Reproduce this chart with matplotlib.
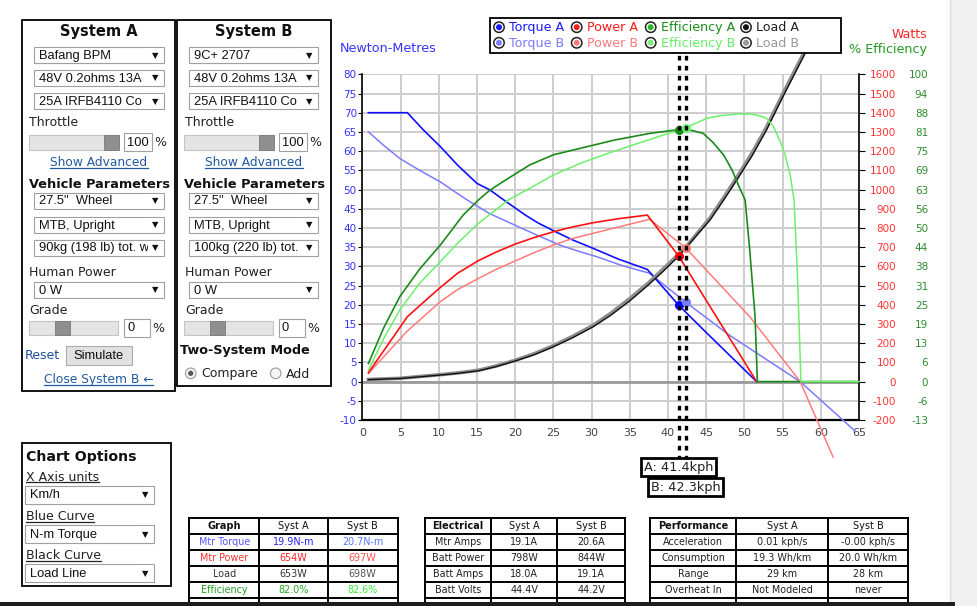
import matplotlib
matplotlib.use("Agg")
import matplotlib.pyplot as plt
from matplotlib.patches import Rectangle, Circle

plt.rcParams['axes.unicode_minus'] = False

W, H = 978, 606

# ---- chart data, x axis in km/h ----
torque_a_kph = [0.8, 5.9, 8.0, 10.2, 12.5, 15.0, 16.7, 18.5, 21.3, 23.0, 25.0, 27.5, 30.2,
                33.5, 37.3, 41.4, 45.1, 51.6]
torque_a_nm = [70.0, 70.0, 65.5, 61.2, 56.3, 51.6, 49.9, 47.3, 43.4, 41.3, 39.3, 36.9, 34.7,
               31.9, 29.2, 19.9, 12.6, 0.0]

torque_b_kph = [0.8, 2.8, 4.9, 7.5, 10.2, 13.7, 16.7, 20.0, 23.0, 25.9, 28.2, 30.7, 34.0,
                37.6, 42.3, 48.1, 57.3, 64.5]
torque_b_nm = [65.0, 61.5, 58.1, 55.0, 52.0, 47.3, 43.7, 40.7, 38.0, 35.5, 34.0, 32.5, 30.2,
               28.2, 20.7, 12.0, 0.0, -12.9]

power_a_kph = [0.8, 5.9, 7.5, 10.2, 12.5, 15.2, 17.5, 20.0, 22.5, 25.0, 27.5, 30.2, 33.5,
               37.3, 41.4, 51.6]
power_a_w = [46, 338, 395, 490, 565, 630, 674, 716, 750, 780, 805, 827, 848, 867, 654, 0]

power_b_kph = [0.8, 5.8, 7.5, 10.2, 12.5, 15.2, 17.5, 20.0, 22.5, 25.0, 27.5, 30.2, 33.5,
               37.6, 42.3, 50.7, 57.3, 61.6]
power_b_w = [42, 260, 320, 416, 480, 537, 584, 628, 672, 711, 745, 772, 805, 845, 697, 338,
             0, -392]

eff_a_kph = [0.8, 2.8, 4.9, 7.5, 10.2, 13.2, 15.2, 16.7, 18.5, 21.9, 25.0, 28.5, 33.0,
             37.7, 41.4, 43.0, 44.6, 45.9, 47.3, 48.4, 49.4, 50.1, 50.4, 50.7, 51.4, 51.7, 65.0]
eff_a_pct = [5.9, 17.5, 27.6, 36.6, 44.4, 54.2, 59.1, 62.3, 65.2, 70.5, 73.8, 75.9, 78.6,
             80.8, 82.0, 81.8, 80.8, 77.8, 73.7, 68.8, 62.9, 59.1, 51.0, 42.8, 21.1, 0.0, 0.0]

eff_b_kph = [0.8, 2.8, 4.9, 7.5, 10.2, 12.7, 15.2, 16.7, 19.1, 21.9, 25.0, 28.5, 32.5, 36.3,
             42.3, 45.1, 47.0, 49.4, 51.0, 52.0, 52.9, 53.8, 54.7, 55.3, 56.0, 56.5, 56.9,
             57.2, 57.4, 65.0]
eff_b_pct = [3.7, 14.0, 23.3, 32.0, 39.0, 45.6, 51.5, 54.4, 59.1, 62.9, 67.2, 71.0, 74.6, 77.7,
             82.6, 85.7, 86.6, 87.1, 87.0, 86.5, 85.7, 83.0, 78.1, 74.0, 67.2, 59.1, 37.4,
             15.8, 0.0, 0.0]

load_a_kph = [0.8, 4.9, 10.2, 12.5, 15.2, 17.5, 20.0, 22.5, 25.0, 27.5, 30.2, 32.5, 35.0,
              37.4, 39.4, 41.4, 43.4, 45.5, 47.2, 49.0, 51.0, 52.9, 55.0, 57.9]
load_a_w = [10, 16, 34, 43, 56, 78, 107, 140, 181, 228, 285, 345, 420, 502, 575, 653, 745,
            841, 940, 1049, 1175, 1310, 1480, 1705]

load_b_kph = [0.8, 4.9, 10.2, 12.5, 15.2, 17.5, 20.0, 22.5, 25.0, 27.5, 30.2, 32.5, 35.0,
              37.4, 40.0, 42.3, 45.5, 47.2, 49.0, 51.0, 52.9, 55.0, 57.7]
load_b_w = [11, 17, 36, 45, 59, 81, 111, 145, 187, 235, 293, 355, 432, 512, 610, 698, 852,
            952, 1062, 1190, 1325, 1495, 1705]

# operating points shown by the dashed cursors
speed_a, speed_b = 41.4, 42.3
torque_at = [19.9, 20.7]
power_at = [654, 697]
eff_at = [82.0, 82.6]

x_ticks = list(range(0, 66, 5))
nm_ticks = list(range(-10, 81, 5))
w_ticks = list(range(-200, 1601, 100))
eff_ticks = [100 * k / 16 for k in range(-2, 17)]
eff_tick_labels = ['-13', '-6', '0', '6', '13', '19', '25', '31', '38', '44', '50',
                   '56', '63', '69', '75', '81', '88', '94', '100']

# ---- side tables ----
graph_rows = [['Mtr Torque', '19.9N-m', '20.7N-m'], ['Mtr Power', '654W', '697W'],
              ['Load', '653W', '698W'], ['Efficiency', '82.0%', '82.6%']]
graph_colors = [['#5555ff', '#2222ff', '#5577ff'], ['#ff3333', '#ff2020', '#ff5050'],
                ['#333333', '#333333', '#555555'], ['#22a022', '#22aa22', '#33ee33']]
elec_rows = [['Mtr Amps', '19.1A', '20.6A'], ['Batt Power', '798W', '844W'],
             ['Batt Amps', '18.0A', '19.1A'], ['Batt Volts', '44.4V', '44.2V']]
perf_rows = [['Acceleration', '0.01 kph/s', '-0.00 kph/s'],
             ['Consumption', '19.3 Wh/km', '20.0 Wh/km'],
             ['Range', '29 km', '28 km'], ['Overheat In', 'Not Modeled', 'never']]

fig = plt.figure(figsize=(9.78, 6.06), dpi=100)
fig.patch.set_facecolor('white')

# ---- main chart ----
ax = fig.add_axes([362.3 / W, (H - 420) / H, (859 - 362.3) / W, (420 - 74.3) / H])
ax.set_xlim(0, 65)
ax.set_ylim(-10, 80)
ax.set_xticks(x_ticks)
ax.set_yticks(nm_ticks)
ax.grid(True, color='#cdcdcd', lw=1.4)
ax.set_axisbelow(True)
ax.axhline(0, color='#9a9a9a', lw=2, zorder=1)
for s in ['top', 'right']:
    ax.spines[s].set_visible(False)
ax.spines['left'].set_linewidth(1.2)
ax.spines['bottom'].set_linewidth(1.6)
ax.tick_params(axis='y', labelcolor='#3333ff', color='black', labelsize=7.5, length=3, pad=1)
ax.tick_params(axis='x', labelcolor='#444444', labelsize=8, length=0, pad=5.5)

ax_w = ax.twinx()
ax_w.set_ylim(-200, 1600)
ax_w.set_yticks(w_ticks, [str(t) for t in w_ticks], ha='right')
for s in ['top', 'left', 'bottom']:
    ax_w.spines[s].set_visible(False)
ax_w.spines['right'].set_linewidth(1.2)
ax_w.tick_params(axis='y', length=4, color='black', labelcolor='#ff3333', labelsize=7.5, pad=22.6)

ax_e = ax.twinx()
ax_e.set_ylim(-12.5, 100)
ax_e.set_yticks(eff_ticks, eff_tick_labels, ha='right')
for s in ax_e.spines.values():
    s.set_visible(False)
ax_e.tick_params(axis='y', length=0, labelcolor='#2e8b2e', labelsize=7.5, pad=49.7)

ax.plot(torque_b_kph, torque_b_nm, color='#7b7bff', lw=1.1, clip_on=False, zorder=3)
ax.plot(torque_a_kph, torque_a_nm, color='#1010ff', lw=1.2, clip_on=False, zorder=3)
ax_w.plot(load_b_kph, load_b_w, color='#8c8c8c', lw=2.6, clip_on=False, zorder=2)
ax_w.plot(load_a_kph, load_a_w, color='#111111', lw=1.0, clip_on=False, zorder=2)
ax_w.plot(power_b_kph, power_b_w, color='#ff7b7b', lw=1.1, clip_on=False, zorder=3)
ax_w.plot(power_a_kph, power_a_w, color='#ff1010', lw=1.2, clip_on=False, zorder=3)
ax_e.plot(eff_a_kph, eff_a_pct, color='#1a8a1a', lw=1.2, clip_on=False, zorder=3)
ax_e.plot(eff_b_kph, eff_b_pct, color='#6cf06c', lw=1.1, clip_on=False, zorder=3)

ax.plot([speed_a], [torque_at[0]], 'o', ms=5.5, color='#0000ff', zorder=6, clip_on=False)
ax.plot([speed_b], [torque_at[1]], 'o', ms=5.5, color='#7b7bff', zorder=6, clip_on=False)
ax_w.plot([speed_a], [power_at[0]], 'o', ms=5.5, color='#ff0000', zorder=6, clip_on=False)
ax_w.plot([speed_b], [power_at[1]], 'o', ms=5.5, color='#ff7b7b', zorder=6, clip_on=False)
ax_e.plot([speed_a], [eff_at[0]], 'o', ms=5.5, color='#1a8a1a', zorder=6, clip_on=False)
ax_e.plot([speed_b], [eff_at[1]], 'o', ms=5.5, color='#6cf06c', zorder=6, clip_on=False)

# speed cursors with their labels
for sp in [speed_a, speed_b]:
    ax_e.plot([sp, sp], [-0.116, 1.064], transform=ax_e.get_xaxis_transform(), color='black',
              lw=2.4, ls=(0, (1.4, 1.6)), clip_on=False, zorder=7)
for sp, name, yy in [(speed_a, 'A', -0.136), (speed_b, 'B', -0.194)]:
    ax_e.text(sp, yy, f'{name}: {sp}kph', transform=ax_e.get_xaxis_transform(), ha='center',
              va='center', fontsize=9.3, color='#222222', clip_on=False, zorder=8,
              bbox=dict(boxstyle='square,pad=0.22', fc='white', ec='black', lw=2))

# ---- page widgets, drawn in pixel coordinates ----
ui = fig.add_axes([0, 0, 1, 1])
ui.set_xlim(0, W)
ui.set_ylim(H, 0)
ui.axis('off')

underlined = []


def box(x0, y0, x1, y1, fc='white', ec='black', lw=1.0, z=1):
    ui.add_patch(Rectangle((x0, y0), x1 - x0, y1 - y0, fc=fc, ec=ec, lw=lw, zorder=z))


def label(x, y, s, size=9, color='#222222', weight='normal', ha='left', family='DejaVu Sans', z=3):
    return ui.text(x, y, s, fontsize=size, color=color, fontweight=weight, ha=ha, va='center',
                   family=family, zorder=z)


def link(x, y, s, ha='center', color='#23599f', size=8.8):
    t = label(x, y, s, size=size, color=color, ha=ha)
    underlined.append((t, color))


def dropdown(x0, y0, x1, y1, s):
    box(x0, y0, x1, y1, fc='white', ec='#a0a0a0', lw=0.8, z=2)
    label(x0 + 5, (y0 + y1) / 2 + 0.5, s, size=9.3, color='#111111', family='Liberation Sans')
    ui.add_patch(Rectangle((x1 - 16, y0 + 1), 15, y1 - y0 - 2, fc='white', ec='none', zorder=4))
    label(x1 - 9, (y0 + y1) / 2, '\u25bc', size=6, color='#111111', ha='center', z=5)


def slider(x0, y0, x1, y1, t0):
    box(x0, y0, x1, y1, fc='#e4e4e4', ec='#c4c4c4', lw=0.8, z=2)
    box(t0, y0, t0 + 15, y1, fc='#8f8f8f', ec='#7a7a7a', lw=0.6, z=3)


def textbox(x0, y0, x1, y1, s):
    box(x0, y0, x1, y1, fc='white', ec='#a0a0a0', lw=0.8, z=2)
    label(x0 + 3, (y0 + y1) / 2 + 0.5, s, size=9.3, color='#111111', family='Liberation Sans')
    label(x1 + 2.5, (y0 + y1) / 2 + 0.5, '%', size=9, color='#222222')


def system_panel(x0, x1, y1, title, cx, tx, dx0, dx1, sl, sl_thumb, gr_thumb, tb, motor, mass):
    box(x0, 19.5, x1, y1, fc='white', ec='black', lw=1.3)
    label(cx, 31.5, title, size=10.5, weight='bold', ha='center', color='#111111')
    dropdown(dx0, 47.3, dx1, 63.3, motor)
    dropdown(dx0, 70, dx1, 86, '48V 0.2ohms 13A')
    dropdown(dx0, 93.3, dx1, 109.3, '25A IRFB4110 Co')
    label(tx, 123, 'Throttle')
    slider(sl[0], 135, sl[1], 150, sl_thumb)
    textbox(tb[0], 133, tb[1], 151, '100')
    link(cx, 163, 'Show Advanced')
    label(cx + 0.5, 184.5, 'Vehicle Parameters', size=9.3, weight='bold', ha='center', color='#111111')
    dropdown(dx0, 193, dx1, 209, '27.5"  Wheel')
    dropdown(dx0, 217, dx1, 233, 'MTB, Upright')
    dropdown(dx0, 240, dx1, 256, mass)
    label(tx, 272, 'Human Power')
    dropdown(dx0, 281.7, dx1, 298.3, '0 W')
    label(tx, 310, 'Grade')
    slider(sl[0], 320.7, sl[1] - 1, 335, gr_thumb)
    textbox(tb[0], 319, tb[1] - 2, 336.7, '0')


system_panel(21.5, 175, 390.5, 'System A', 99, 29, 34, 164.3, (29, 119), 104, 55, (124, 152),
             'Bafang BPM', '90kg (198 lb) tot. w')
system_panel(176.5, 330.5, 385.5, 'System B', 254, 185, 189, 318.3, (184.3, 274), 259, 210,
             (279, 306.7), '9C+ 2707', '100kg (220 lb) tot.')

label(25, 355.5, 'Reset', color='#1f4f9a')
box(65.7, 345.7, 131.7, 365, fc='#e1e1e1', ec='#adadad', lw=0.8, z=2)
label(98.7, 355.8, 'Simulate', size=9.3, ha='center', color='#111111', family='Liberation Sans')
link(98.3, 380, 'Close System B \u2190', size=8.8)

label(180.5, 350.7, 'Two-System Mode', size=9.2, weight='bold', color='#111111')
for cxr, txt, on in [(190.7, 'Compare', True), (275.7, 'Add', False)]:
    ui.add_patch(Circle((cxr, 373.3), 5.3, fc='#f4f4f4', ec='#9a9a9a', lw=0.8, zorder=3))
    if on:
        ui.add_patch(Circle((cxr, 373.3), 2.6, fc='#555555', ec='none', zorder=4))
    label(cxr + 10.5, 374, txt, size=9)

# chart options
box(21.7, 443.3, 170.7, 585.7, fc='white', ec='black', lw=1.3)
label(25.7, 456.7, 'Chart Options', size=10.2, weight='bold', color='#111111')
for yy, head, val in [(477.3, 'X Axis units', 'Km/h'), (516.7, 'Blue Curve', 'N-m Torque'),
                      (555.7, 'Black Curve', 'Load Line')]:
    link(25.7, yy, head, ha='left', color='#222222', size=9)
    dropdown(25, yy + 8.5, 154.3, yy + 26.3, val)

# chart captions and series selector
label(339.5, 48.5, 'Newton-Metres', size=9.2, color='#3333ff')
label(927, 34.5, 'Watts', size=9, color='#ff2222', ha='right')
label(927, 49.5, '% Efficiency', size=9.2, color='#229922', ha='right')

box(489.5, 17.5, 840.5, 52.5, fc='white', ec='black', lw=1.3, z=5)
sel_x = [499, 576.7, 650.7, 746]
sel_rows = [(27.2, ['Torque A', 'Power A', 'Efficiency A', 'Load A'],
             ['#1a1aff', '#ff1a1a', '#1a8c1a', '#222222'],
             ['#1a1aff', '#ff1a1a', '#22bb22', '#111111']),
            (42.8, ['Torque B', 'Power B', 'Efficiency B', 'Load B'],
             ['#7b7bff', '#ff7b7b', '#66ee66', '#999999'],
             ['#7b7bff', '#ff7b7b', '#77ee77', '#999999'])]
for yy, names, tcols, dcols in sel_rows:
    for xx, nm, tc, dc in zip(sel_x, names, tcols, dcols):
        ui.add_patch(Circle((xx, yy), 5.2, fc='white', ec='#222222', lw=1.1, zorder=6))
        ui.add_patch(Circle((xx, yy), 3.0, fc=dc, ec='none', zorder=7))
        label(xx + 10, yy + 0.5, nm, size=9.1, color=tc, z=7)


def table(cols, rows_y, header, rows, colors=None):
    x0, x1 = cols[0], cols[-1]
    box(x0, rows_y[0], x1, H, fc='white', ec='none', z=1)
    for xx in cols:
        ui.plot([xx, xx], [rows_y[0], H], color='black', lw=1.4, zorder=2)
    for yy in rows_y:
        ui.plot([x0, x1], [yy, yy], color='black', lw=1.4, zorder=2)
    mids = [(cols[i] + cols[i + 1]) / 2 for i in range(3)]
    for j, h in enumerate(header):
        label(mids[j], (rows_y[0] + rows_y[1]) / 2 + 0.5, h, size=7,
              weight='bold' if j == 0 else 'normal', ha='center', color='#111111')
    for i, row in enumerate(rows):
        yc = (rows_y[i + 1] + rows_y[i + 2]) / 2 + 0.5
        for j, cell in enumerate(row):
            c = colors[i][j] if colors else '#222222'
            label(mids[j], yc, cell, size=6.9, ha='center', color=c)


rows_y = [517.5, 533.6, 549.6, 565.8, 581.7, 597.7]
table([189, 259.3, 327.7, 397.7], rows_y, ['Graph', 'Syst A', 'Syst B'], graph_rows, graph_colors)
table([425, 491, 557.3, 625], rows_y, ['Electrical', 'Syst A', 'Syst B'], elec_rows)
table([650, 736, 828.3, 907.7], rows_y, ['Performance', 'Syst A', 'Syst B'], perf_rows)

# browser edges
box(950, 0, W, H, fc='#f0f0f0', ec='none', z=1)
ui.plot([950, 950], [0, H], color='#dddddd', lw=1, zorder=2)
box(0, 601.5, 955, H, fc='#1e1e1e', ec='none', z=9)

fig.canvas.draw()
rend = fig.canvas.get_renderer()
inv = ui.transData.inverted()
for t, c in underlined:
    bb = t.get_window_extent(rend)
    (ux0, uy0), (ux1, _) = inv.transform([(bb.x0, bb.y0), (bb.x1, bb.y1)])
    ui.plot([ux0, ux1], [uy0 - 1.5, uy0 - 1.5], color=c, lw=0.9, zorder=3)

fig.savefig('out.png', dpi=100)
